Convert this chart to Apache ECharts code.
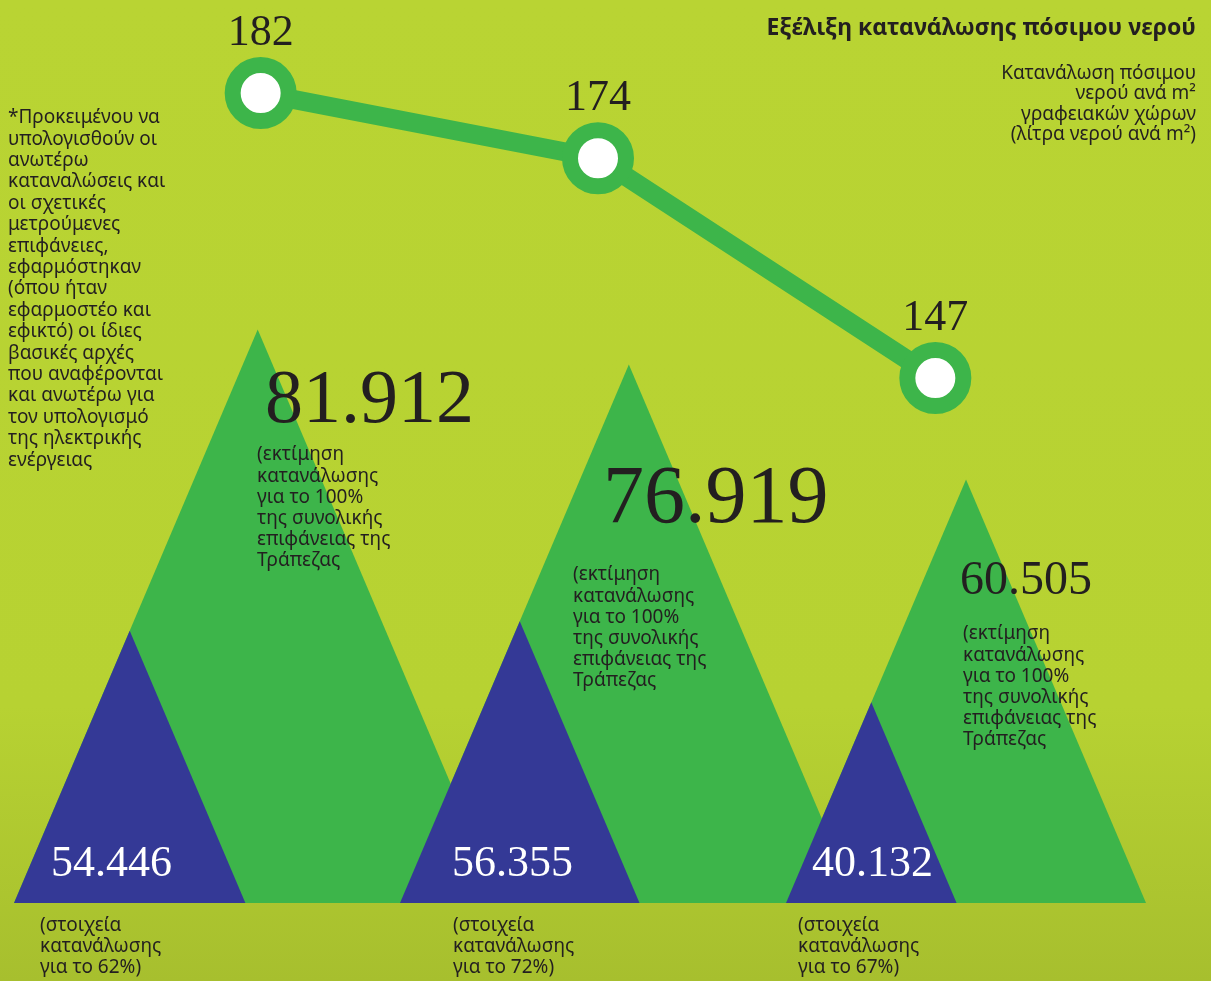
<!DOCTYPE html>
<html>
<head>
<meta charset="utf-8">
<script src="https://cdn.jsdelivr.net/npm/echarts@6/dist/echarts.min.js"></script>
<style>
  html, body { margin: 0; padding: 0; width: 1211px; height: 981px; overflow: hidden; }
  #chart { width: 1211px; height: 981px; }
</style>
</head>
<body>
<div id="chart"></div>
<script>
// Three consecutive reporting periods
const periods = ['Περίοδος 1', 'Περίοδος 2', 'Περίοδος 3'];
// Estimated drinking-water consumption for 100% of the Bank's floor area
const estimatedTotal = [81912, 76919, 60505];
// Metered consumption, covering only part of the floor area
const meteredTotal = [54446, 56355, 40132];
// Share of floor area covered by the metered figures (%)
const meteredShare = [62, 72, 67];
// Litres of drinking water per m² of office space
const litresPerSqm = [182, 174, 147];

const GREEN = '#3db54a';
const BLUE = '#343996';
const INK = '#231f20';
const SANS = '"Noto Sans", "DejaVu Sans", sans-serif';
const SERIF = '"Liberation Serif", "DejaVu Serif", serif';

// Mountains share one shape: base width = 0.85 × height, left-aligned in each band
const SHAPE = 0.85;
const LEFT_FRAC = 0.4637;
// Font sizes of the estimate figures
const estimateFont = [76, 82, 48];

function fmt(v) {
  return String(v).replace(/\B(?=(\d{3})+(?!\d))/g, '.');
}

function mountain(fill) {
  return function (params, api) {
    const i = api.value(0);
    const base = api.coord([i, 0]);
    const peak = api.coord([i, api.value(1)]);
    const band = api.size([1, 0])[0];
    const h = base[1] - peak[1];
    const w = h * SHAPE;
    const left = base[0] - band * LEFT_FRAC;
    return {
      type: 'polygon',
      shape: { points: [[left, base[1]], [left + w, base[1]], [left + w / 2, peak[1]]] },
      style: { fill: fill }
    };
  };
}

const chart = echarts.init(document.getElementById('chart'), null, { renderer: 'canvas' });

const estimateCaption = '(εκτίμηση\nκατανάλωσης\nγια το 100%\nτης συνολικής\nεπιφάνειας της\nΤράπεζας';
const estimatePos = [[265, 402], [603, 500], [960, 581]];
const estimateCapPos = [[257, 508], [573, 628], [963, 687]];
const meteredPos = [[51, 864], [452, 864], [812, 864]];
const meteredCapPos = [[40, 947], [453, 947], [798, 947]];

const graphics = [
  {
    type: 'text', x: 1196, y: 28, z: 10,
    style: { text: 'Εξέλιξη κατανάλωσης πόσιμου νερού', font: 'bold 23px ' + SANS, fill: INK, textAlign: 'right', textVerticalAlign: 'middle' }
  },
  {
    type: 'text', x: 1196, y: 104, z: 10,
    style: { text: 'Κατανάλωση πόσιμου\nνερού ανά m²\nγραφειακών χώρων\n(λίτρα νερού ανά m²)', font: '19px ' + SANS, lineHeight: 20.6, fill: INK, textAlign: 'right', textVerticalAlign: 'middle' }
  },
  {
    type: 'text', x: 8, y: 289, z: 10,
    style: {
      text: '*Προκειμένου να\nυπολογισθούν οι\nανωτέρω\nκαταναλώσεις και\nοι σχετικές\nμετρούμενες\nεπιφάνειες,\nεφαρμόστηκαν\n(όπου ήταν\nεφαρμοστέο και\nεφικτό) οι ίδιες\nβασικές αρχές\nπου αναφέρονται\nκαι ανωτέρω για\nτον υπολογισμό\nτης ηλεκτρικής\nενέργειας',
      font: '19px ' + SANS, lineHeight: 21.4, fill: INK, textAlign: 'left', textVerticalAlign: 'middle'
    }
  }
];

estimatedTotal.forEach(function (v, i) {
  graphics.push({
    type: 'text', x: estimatePos[i][0], y: estimatePos[i][1], z: 10,
    style: { text: fmt(v), font: estimateFont[i] + 'px ' + SERIF, fill: INK, textAlign: 'left', textVerticalAlign: 'middle' }
  });
  graphics.push({
    type: 'text', x: estimateCapPos[i][0], y: estimateCapPos[i][1], z: 10,
    style: { text: estimateCaption, font: '19px ' + SANS, lineHeight: 21.2, fill: INK, textAlign: 'left', textVerticalAlign: 'middle' }
  });
});

meteredTotal.forEach(function (v, i) {
  graphics.push({
    type: 'text', x: meteredPos[i][0], y: meteredPos[i][1], z: 10,
    style: { text: fmt(v), font: '44px ' + SERIF, fill: '#ffffff', textAlign: 'left', textVerticalAlign: 'middle' }
  });
  graphics.push({
    type: 'text', x: meteredCapPos[i][0], y: meteredCapPos[i][1], z: 10,
    style: { text: '(στοιχεία\nκατανάλωσης\nγια το ' + meteredShare[i] + '%)', font: '19px ' + SANS, lineHeight: 21, fill: INK, textAlign: 'left', textVerticalAlign: 'middle' }
  });
});

chart.setOption({
  animation: false,
  backgroundColor: new echarts.graphic.LinearGradient(0, 0, 0, 1, [
    { offset: 0, color: '#b9d433' },
    { offset: 0.72, color: '#b7d232' },
    { offset: 1, color: '#a7bf2e' }
  ]),
  grid: [
    { left: 0, right: 53, top: 203, bottom: 78 },
    { left: 92, right: 107, top: 28, bottom: 546 }
  ],
  xAxis: [
    { type: 'category', gridIndex: 0, data: periods, show: false },
    { type: 'category', gridIndex: 1, data: periods, show: false }
  ],
  yAxis: [
    { type: 'value', gridIndex: 0, min: 0, max: 100000, show: false },
    { type: 'value', gridIndex: 0, min: 0, max: 140000, show: false },
    { type: 'value', gridIndex: 1, min: 140, max: 190, show: false }
  ],
  graphic: graphics,
  series: [
    {
      type: 'custom', name: 'estimate', xAxisIndex: 0, yAxisIndex: 0, z: 2, silent: true,
      renderItem: mountain(GREEN),
      data: estimatedTotal.map(function (v, i) { return [i, v]; })
    },
    {
      type: 'custom', name: 'metered', xAxisIndex: 0, yAxisIndex: 1, z: 3, silent: true,
      renderItem: mountain(BLUE),
      data: meteredTotal.map(function (v, i) { return [i, v]; })
    },
    {
      type: 'line', name: 'litres per m²', xAxisIndex: 1, yAxisIndex: 2, z: 5, silent: true,
      data: litresPerSqm,
      lineStyle: { color: GREEN, width: 19 },
      symbol: 'circle', symbolSize: 56,
      itemStyle: { color: '#ffffff', borderColor: GREEN, borderWidth: 16 },
      label: { show: true, position: 'top', distance: 2, fontFamily: SERIF, fontSize: 44, color: INK, formatter: '{c}' },
      emphasis: { disabled: true }
    }
  ]
});
</script>
</body>
</html>
